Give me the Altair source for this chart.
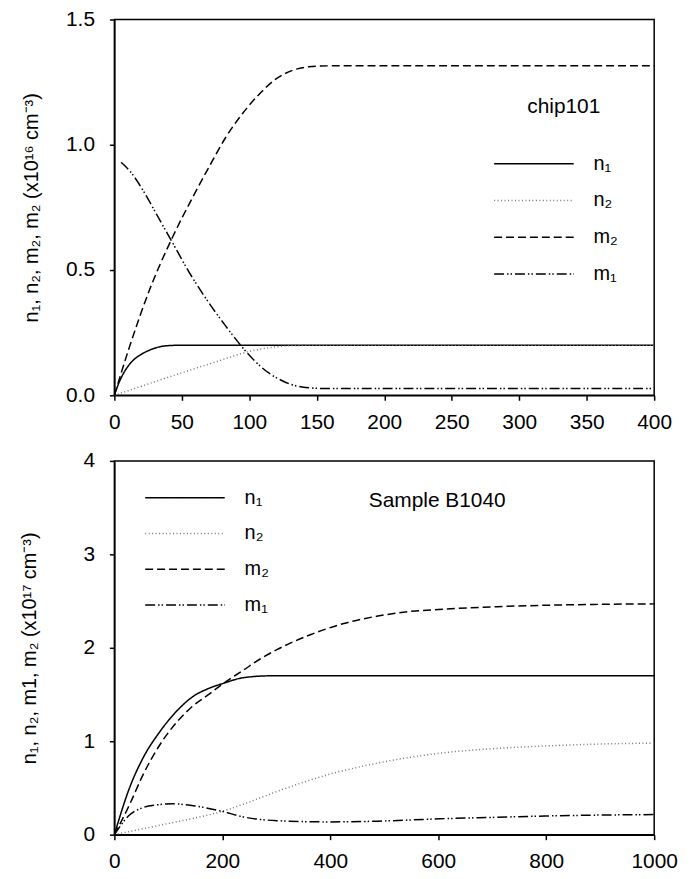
import altair as alt
import pandas as pd

SERIES = ["n₁", "n₂", "m₂", "m₁"]

# ---- top panel (chip101), units 1e16 cm^-3 ----
top_n1_x = [0, 3, 6, 10, 14, 18, 21, 26, 31, 36, 43, 50, 100, 200, 300, 400]
top_n1_y = [0, 0.045, 0.08, 0.115, 0.14, 0.157, 0.167, 0.18, 0.19, 0.196, 0.199, 0.2, 0.2, 0.2, 0.2, 0.2]
top_n2_x = [0, 25, 50, 75, 100, 115, 130, 150, 400]
top_n2_y = [0, 0.045, 0.09, 0.133, 0.175, 0.19, 0.198, 0.2, 0.2]
top_m2_x = [0, 11, 26, 43, 58, 70, 82, 95, 107, 119, 132, 144, 160, 200, 400]
top_m2_y = [0, 0.19, 0.42, 0.63, 0.79, 0.91, 1.025, 1.125, 1.2, 1.26, 1.297, 1.311, 1.315, 1.315, 1.315]
top_m1_x = [5, 13, 21, 31, 43, 55, 68, 82, 97, 109, 124, 139, 156, 180, 400]
top_m1_y = [0.93, 0.885, 0.82, 0.725, 0.61, 0.495, 0.385, 0.28, 0.178, 0.112, 0.059, 0.033, 0.027, 0.027, 0.027]

# ---- bottom panel (Sample B1040), units 1e17 cm^-3 ----
bot_n1_x = [0, 28, 53, 84, 115, 146, 177, 202, 239, 289, 350, 1000]
bot_n1_y = [0, 0.5, 0.82, 1.1, 1.32, 1.48, 1.57, 1.62, 1.68, 1.70, 1.70, 1.70]
bot_n2_x = [0, 50, 100, 150, 200, 250, 300, 350, 400, 450, 500, 550, 600, 700, 800, 900, 1000]
bot_n2_y = [0, 0.06, 0.12, 0.18, 0.25, 0.35, 0.46, 0.56, 0.65, 0.72, 0.78, 0.83, 0.87, 0.92, 0.95, 0.97, 0.98]
bot_m2_x = [0, 28, 53, 84, 115, 146, 177, 202, 239, 270, 301, 363, 425, 488, 550, 600, 710, 800, 900, 1000]
bot_m2_y = [0, 0.32, 0.64, 0.96, 1.2, 1.38, 1.51, 1.62, 1.76, 1.88, 1.98, 2.14, 2.26, 2.34, 2.39, 2.41, 2.44, 2.455, 2.465, 2.47]
bot_m1_x = [0, 28, 53, 80, 109, 146, 196, 239, 301, 394, 488, 550, 602, 700, 798, 900, 1000]
bot_m1_y = [0, 0.21, 0.29, 0.32, 0.33, 0.31, 0.255, 0.19, 0.15, 0.137, 0.145, 0.158, 0.17, 0.185, 0.2, 0.21, 0.215]

top_x_ticks = [0, 50, 100, 150, 200, 250, 300, 350, 400]
top_y_ticks = [0, 0.5, 1.0, 1.5]
bot_x_ticks = [0, 200, 400, 600, 800, 1000]
bot_y_ticks = [0, 1, 2, 3, 4]

top_label = ["chip101"]
bot_label = ["Sample B1040"]

FONT = "Liberation Sans"


def frame(pairs):
    rows = []
    for name, xs, ys in pairs:
        for a, b in zip(xs, ys):
            rows.append({"x": a, "y": b, "s": name})
    return pd.DataFrame(rows)


top_df = frame([("n₁", top_n1_x, top_n1_y), ("n₂", top_n2_x, top_n2_y),
                ("m₂", top_m2_x, top_m2_y), ("m₁", top_m1_x, top_m1_y)])
bot_df = frame([("n₁", bot_n1_x, bot_n1_y), ("n₂", bot_n2_x, bot_n2_y),
                ("m₂", bot_m2_x, bot_m2_y), ("m₁", bot_m1_x, bot_m1_y)])

dash_scale = alt.Scale(domain=SERIES, range=[[1, 0], [1, 2.5], [8, 4], [10, 3, 1.5, 2, 1.5, 3]])
color_scale = alt.Scale(domain=SERIES, range=["black", "#777777", "black", "black"])


def make_legend(lx, ly, rowpad):
    return alt.Legend(title=None, orient="none", legendX=lx, legendY=ly,
                      symbolType="M0,0H16", symbolSize=100, symbolStrokeWidth=1.5,
                      labelFontSize=20, labelFont=FONT, labelColor="black",
                      labelOffset=90, rowPadding=rowpad, padding=0)


def panel(df, xmax, ymax, xt, yt, fmt, ytitle, tpad, leg, label, lx, ly, h):
    xax = alt.Axis(values=xt, format="d", title=None, grid=False, tickSize=5, labelFontSize=21,
                   labelPadding=11, labelFlush=False, labelFont=FONT, labelColor="black",
                   domainColor="black", tickColor="black", domainWidth=1.5, tickWidth=1.5)
    yax = alt.Axis(values=yt, format=fmt, title=ytitle, grid=False, tickSize=5, labelFontSize=21,
                   labelPadding=15, labelFont=FONT, labelColor="black", titleFont=FONT,
                   titleFontSize=20, titleFontWeight="normal", titleColor="black",
                   titlePadding=tpad, domainColor="black", tickColor="black",
                   domainWidth=1.5, tickWidth=1.5)
    lines = alt.Chart(df).mark_line(strokeWidth=1.5, interpolate="monotone").encode(
        x=alt.X("x:Q", scale=alt.Scale(domain=[0, xmax], nice=False), axis=xax),
        y=alt.Y("y:Q", scale=alt.Scale(domain=[0, ymax], nice=False), axis=yax),
        color=alt.Color("s:N", scale=color_scale, legend=leg),
        strokeDash=alt.StrokeDash("s:N", scale=dash_scale, legend=leg),
        detail="s:N",
    )
    tdf = pd.DataFrame({"t": label, "x": [lx], "y": [ly]})
    txt = alt.Chart(tdf).mark_text(font=FONT, fontSize=21, color="black", align="center").encode(
        x="x:Q", y="y:Q", text="t:N")
    return alt.layer(lines, txt).properties(width=543, height=h)


top = panel(top_df, 400, 1.5, top_x_ticks, top_y_ticks, ".1f",
            "n₁, n₂, m₂, m₂  (x10¹⁶ cm⁻³)", 24, make_legend(372, 135, 17),
            top_label, 333, 1.15, 378)
bot = panel(bot_df, 1000, 4, bot_x_ticks, bot_y_ticks, "d",
            "n₁, n₂, m1, m₂  (x10¹⁷ cm⁻³)", 44, make_legend(21, 27, 16),
            bot_label, 598, 3.57, 376)

chart = alt.vconcat(top, bot, spacing=16).resolve_scale(
    color="independent", strokeDash="independent"
).resolve_legend(
    color="independent", strokeDash="independent"
).properties(
    padding={"left": 10, "top": -3, "right": 5, "bottom": 5}
).configure_view(stroke="black", strokeWidth=1.5).configure_legend(symbolFillColor="transparent")

chart.save("out.html", embed_options={"renderer": "svg", "actions": False})
